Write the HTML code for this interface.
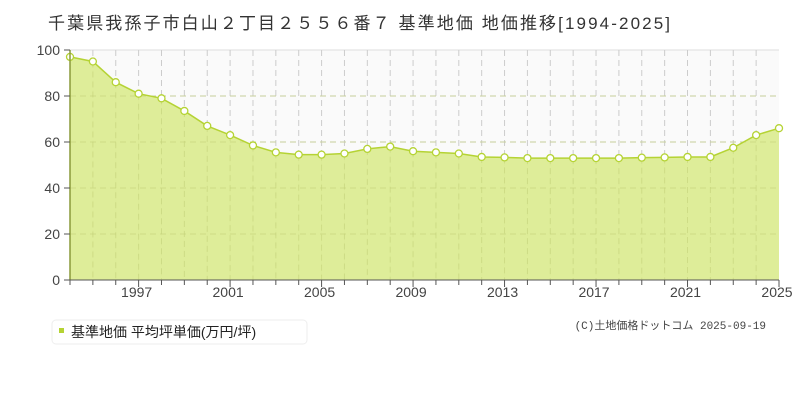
<!DOCTYPE html>
<html><head><meta charset="utf-8"><style>
body{margin:0;background:#fff;width:800px;height:400px;overflow:hidden;font-family:"Liberation Sans","Noto Sans CJK JP",sans-serif;}
</style></head><body>
<svg width="800" height="400" xmlns="http://www.w3.org/2000/svg" font-family="'Liberation Sans','Noto Sans CJK JP',sans-serif">
<text x="48" y="29" font-size="17" fill="#333" textLength="622" lengthAdjust="spacing">千葉県我孫子市白山２丁目２５５６番７ 基準地価 地価推移[1994-2025]</text>
<rect x="70" y="50" width="709" height="230" fill="#fafafa"/>
<line x1="70" y1="50" x2="779" y2="50" stroke="#ddd" stroke-width="1"/>
<g id="chart"></g>
<line x1="70" y1="50" x2="70" y2="280" stroke="#8a9a3a" stroke-width="1.5"/>
<line x1="70" y1="280" x2="779" y2="280" stroke="#555" stroke-width="1"/>
<g font-size="14" fill="#444" text-anchor="end">
<text x="60" y="55">100</text><text x="60" y="101">80</text><text x="60" y="147">60</text><text x="60" y="193">40</text><text x="60" y="239">20</text><text x="60" y="285">0</text>
</g>
<g stroke="#555"><line x1="64" y1="50" x2="70" y2="50"/><line x1="64" y1="96" x2="70" y2="96"/><line x1="64" y1="142" x2="70" y2="142"/><line x1="64" y1="188" x2="70" y2="188"/><line x1="64" y1="234" x2="70" y2="234"/><line x1="64" y1="280" x2="70" y2="280"/></g>
<rect x="52" y="320" width="255" height="24" rx="4" fill="#fff" stroke="#eee"/>
<rect x="59" y="328" width="5" height="5" fill="#b5d334"/>
<text x="71" y="337" font-size="14" fill="#222">基準地価 平均坪単価(万円/坪)</text>
<text x="766" y="329" font-size="11" fill="#444" text-anchor="end" font-family="'Liberation Mono','Noto Sans CJK JP',monospace">(C)土地価格ドットコム 2025-09-19</text>
</svg>
<script>
var v=[97,95,86,81,79,73.5,67,63,58.5,55.5,54.5,54.5,55,57,58,56,55.5,55,53.5,53.3,53,53,53,53,53,53.2,53.3,53.5,53.5,57.5,63,66];
var g=document.getElementById('chart'),s='';
function X(i){return 70+i*709/31}function Y(d){return 280-d*2.3}
for(var k=1;k<5;k++){s+='<line x1="70" x2="779" y1="'+(280-k*46)+'" y2="'+(280-k*46)+'" stroke="#ccc" stroke-dasharray="6,4"/>';}
for(var i=1;i<31;i++){s+='<line x1="'+X(i)+'" x2="'+X(i)+'" y1="50" y2="280" stroke="#ccc" stroke-dasharray="6,4"/>';}
var p='M70,280';for(i=0;i<32;i++)p+=' L'+X(i)+','+Y(v[i]);p+=' L779,280Z';
s+='<path d="'+p+'" fill="#dcec93" fill-opacity="0.95"/>';
for(var k=1;k<5;k++){s+='<line x1="70" x2="779" y1="'+(280-k*46)+'" y2="'+(280-k*46)+'" stroke="#c4d27a" stroke-dasharray="6,4" opacity="0.6"/>';}
for(i=1;i<31;i++){s+='<line x1="'+X(i)+'" x2="'+X(i)+'" y1="'+Y(v[i])+'" y2="280" stroke="#c4d27a" stroke-dasharray="6,4" opacity="0.6"/>';}
var l='';for(i=0;i<32;i++)l+=(i?' L':'M')+X(i)+','+Y(v[i]);
s+='<path d="'+l+'" fill="none" stroke="#b5d334" stroke-width="1.5"/>';
for(i=0;i<32;i++)s+='<circle cx="'+X(i)+'" cy="'+Y(v[i])+'" r="3.5" fill="#fff" stroke="#b5d334" stroke-width="1.3"/>';
for(i=0;i<32;i++){var h=(i-3)%4==0?7:5;s+='<line x1="'+X(i)+'" x2="'+X(i)+'" y1="280" y2="'+(280+h)+'" stroke="#555"/>';}
for(i=3;i<32;i+=4)s+='<text x="'+(X(i)-2)+'" y="297" font-size="14" fill="#444" text-anchor="middle">'+(1994+i)+'</text>';
g.innerHTML=s;
</script>
</body></html>
